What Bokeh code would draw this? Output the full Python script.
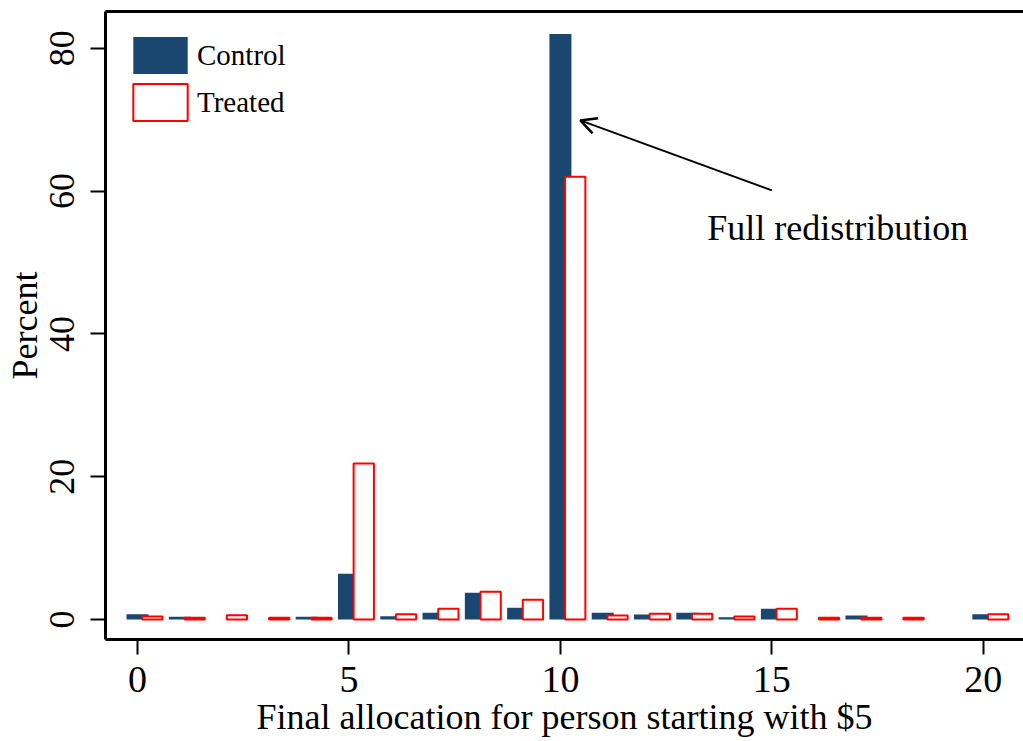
from bokeh.plotting import figure
from bokeh.models import (Range1d, FixedTicker, LinearAxis, Arrow, OpenHead, Label,
                          ColumnDataSource, Legend, LegendItem)
from bokeh.embed import file_html
from bokeh.resources import INLINE

# ---- data ----
allocation = list(range(21))
control = [0.74, 0.38, 0.0, 0.0, 0.38, 6.4, 0.46, 0.94, 3.74, 1.64, 82.0,
           0.94, 0.7, 0.94, 0.33, 1.5, 0.0, 0.56, 0.0, 0.0, 0.74]
treated = [0.42, 0.24, 0.6, 0.24, 0.24, 21.85, 0.74, 1.5, 3.9, 2.76, 62.0,
           0.56, 0.8, 0.8, 0.42, 1.5, 0.24, 0.24, 0.24, 0.0, 0.74]
x_ticks = [0, 5, 10, 15, 20]
y_ticks = [0, 20, 40, 60, 80]
series_names = ["Control", "Treated"]
annotation_text = "Full redistribution"
arrow_tail = (15.0, 60.1)
arrow_tip = (10.47, 69.9)
label_pos = (13.47, 54.8)

# ---- styling ----
FONT = "Liberation Serif"
NAVY = "#1a476f"
RED = "#ff0000"
TREATED_OFFSET = 0.35

c_src = ColumnDataSource(dict(
    x=[a for a, v in zip(allocation, control) if v > 0],
    top=[v for v in control if v > 0]))
t_src = ColumnDataSource(dict(
    x=[a + TREATED_OFFSET for a, v in zip(allocation, treated) if v > 0],
    top=[v for v in treated if v > 0]))

p = figure(width=1023, height=741, output_backend="svg", toolbar_location=None,
           x_range=Range1d(-0.757, 20.95), y_range=Range1d(-2.8, 85.15),
           min_border_left=105, min_border_right=0, min_border_top=11,
           min_border_bottom=102)
p.outline_line_color = None
p.xgrid.visible = False
p.ygrid.visible = False
p.background_fill_color = "white"
p.border_fill_color = "white"

rc = p.vbar(x="x", top="top", width=0.52, source=c_src, fill_color=NAVY,
            line_color=None)
rt = p.vbar(x="x", top="top", width=0.48, source=t_src, fill_color="white",
            line_color=RED, line_width=2)

# x axis
xa = p.xaxis[0]
xa.ticker = FixedTicker(ticks=x_ticks)
xa.axis_label = "Final allocation for person starting with $5"
xa.axis_label_text_font = FONT
xa.axis_label_text_font_size = "36px"
xa.axis_label_text_font_style = "normal"
xa.axis_label_text_color = "black"
xa.axis_label_standoff = 2
xa.major_label_text_font = FONT
xa.major_label_text_font_size = "38px"
xa.major_label_text_color = "black"
xa.major_label_standoff = 12
xa.major_tick_out = 15
xa.major_tick_in = 0
xa.minor_tick_out = 0
xa.minor_tick_in = 0
xa.axis_line_width = 3
xa.axis_line_color = "black"
xa.major_tick_line_width = 2
xa.major_tick_line_color = "black"

# y axis
ya = p.yaxis[0]
ya.ticker = FixedTicker(ticks=y_ticks)
ya.axis_label = "Percent"
ya.axis_label_text_font = FONT
ya.axis_label_text_font_size = "36px"
ya.axis_label_text_font_style = "normal"
ya.axis_label_text_color = "black"
ya.axis_label_standoff = 3
ya.major_label_text_font = FONT
ya.major_label_text_font_size = "36px"
ya.major_label_text_color = "black"
ya.major_label_orientation = "vertical"
ya.major_label_standoff = 16
ya.major_tick_out = 15
ya.major_tick_in = 0
ya.minor_tick_out = 0
ya.minor_tick_in = 0
ya.axis_line_width = 3
ya.axis_line_color = "black"
ya.major_tick_line_width = 2
ya.major_tick_line_color = "black"

# top frame line
top_axis = LinearAxis(ticker=FixedTicker(ticks=[]), axis_line_width=3,
                      axis_line_color="black",
                      major_tick_out=0, major_tick_in=0, minor_tick_out=0,
                      minor_tick_in=0, major_label_text_font_size="0px",
                      major_label_standoff=0)
p.add_layout(top_axis, "above")

# legend
legend = Legend(items=[LegendItem(label=series_names[0], renderers=[rc]),
                       LegendItem(label=series_names[1], renderers=[rt])],
                location="top_left", margin=21, padding=0, spacing=1,
                glyph_width=68, glyph_height=46, label_standoff=3,
                label_text_font=FONT, label_text_font_size="29px",
                label_text_color="black",
                border_line_color=None, background_fill_alpha=0)
p.add_layout(legend)

# annotation
p.add_layout(Arrow(end=OpenHead(size=16, line_width=2.5, line_color="black"),
                   x_start=arrow_tail[0], y_start=arrow_tail[1],
                   x_end=arrow_tip[0], y_end=arrow_tip[1],
                   line_width=2, line_color="black"))
p.add_layout(Label(x=label_pos[0], y=label_pos[1], text=annotation_text,
                   text_font=FONT, text_font_size="36px",
                   text_baseline="alphabetic", text_color="black"))

open("out.html", "w").write(file_html(p, INLINE))
